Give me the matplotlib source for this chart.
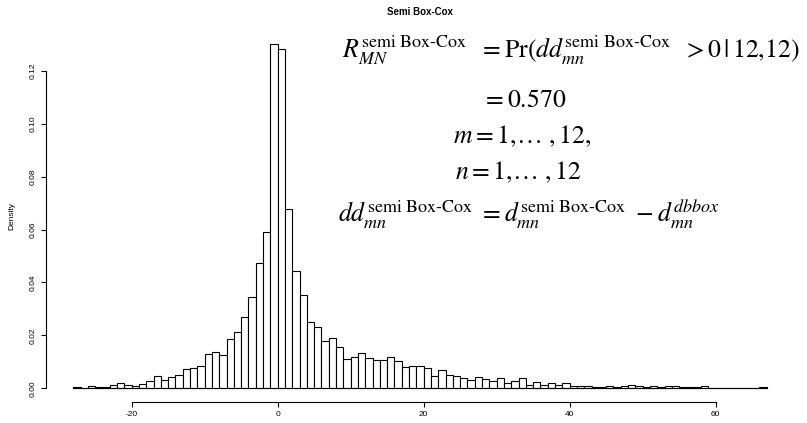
import numpy as np
import matplotlib.pyplot as plt

plt.rcParams['font.family'] = ['Liberation Sans', 'DejaVu Sans']
plt.rcParams['mathtext.fontset'] = 'stix'
plt.rcParams['axes.unicode_minus'] = False

# histogram bins of width 1, from -28 to 67
bin_edges = np.arange(-28, 68)
density = [
    0.0003, 0.0000, 0.0009, 0.0004, 0.0004, 0.0012, 0.0020, 0.0012,   # -28 .. -21
    0.0008, 0.0017, 0.0027, 0.0046, 0.0032, 0.0042, 0.0050, 0.0073,   # -20 .. -13
    0.0077, 0.0086, 0.0130, 0.0139, 0.0124, 0.0186, 0.0214, 0.0269,   # -12 .. -5
    0.0346, 0.0473, 0.0590, 0.1303, 0.1282, 0.0677, 0.0445, 0.0352,   # -4 .. 3
    0.0250, 0.0232, 0.0180, 0.0190, 0.0156, 0.0111, 0.0119, 0.0132,   # 4 .. 11
    0.0114, 0.0105, 0.0105, 0.0117, 0.0103, 0.0081, 0.0086, 0.0084,   # 12 .. 19
    0.0076, 0.0045, 0.0069, 0.0050, 0.0047, 0.0037, 0.0032, 0.0042,   # 20 .. 27
    0.0036, 0.0027, 0.0039, 0.0020, 0.0027, 0.0037, 0.0013, 0.0023,   # 28 .. 35
    0.0012, 0.0020, 0.0012, 0.0020, 0.0009, 0.0009, 0.0007, 0.0004,   # 36 .. 43
    0.0004, 0.0009, 0.0004, 0.0007, 0.0012, 0.0007, 0.0004, 0.0007,   # 44 .. 51
    0.0004, 0.0007, 0.0009, 0.0003, 0.0004, 0.0004, 0.0009, 0.0000,   # 52 .. 59
    0.0000, 0.0000, 0.0000, 0.0000, 0.0002, 0.0000, 0.0003,           # 60 .. 66
]
x_ticks = [-20, 0, 20, 40, 60]
y_ticks = [0.00, 0.02, 0.04, 0.06, 0.08, 0.10, 0.12]

W, H = 807, 423
fig = plt.figure(figsize=(W / 100, H / 100), dpi=100)
ax = fig.add_axes([45.5 / W, 21 / H, 749 / W, 372 / H])

ax.bar(bin_edges[:-1], density, width=1, align='edge',
       facecolor='white', edgecolor='black', linewidth=0.8)
ax.plot([bin_edges[0], bin_edges[-1]], [0, 0], color='black', lw=0.8)

ax.set_xlim(-31.8, 70.8)
ax.set_ylim(-0.0052, 0.1355)
for s in ['top', 'right']:
    ax.spines[s].set_visible(False)
ax.spines['left'].set_bounds(0, 0.12)
ax.spines['bottom'].set_bounds(-20, 60)
for s in ['left', 'bottom']:
    ax.spines[s].set_linewidth(0.8)
ax.set_xticks(x_ticks)
ax.set_xticklabels([str(t) for t in x_ticks])
ax.set_yticks(y_ticks)
ax.set_yticklabels(['%.2f' % t for t in y_ticks], rotation=90, va='center')
ax.tick_params(length=3.5, width=0.8, labelsize=6, pad=3, colors='black')
ax.set_ylabel('Density', fontsize=6, labelpad=10)

fig.text(420 / W, 1 - 12 / H, 'Semi Box-Cox', fontsize=7, fontweight='bold',
         ha='center', va='center')

sup = r'^{\mathrm{semi\ Box}\text{-}\mathrm{Cox}}'
lines = [
    (342, 50, r'$R_{MN}' + sup + r'\ \ = \mathrm{Pr}(dd_{mn}' + sup + r'\ \ > 0\,|\,12{,}12)$'),
    (482, 100, r'$= 0.570$'),
    (453, 136, r'$m = 1,\!\ldots\ ,12,$'),
    (455, 172, r'$n = 1,\!\ldots\ ,12$'),
    (338, 214, r'$dd_{mn}' + sup + r'\ = d_{mn}' + sup + r'\ - d_{mn}^{dbbox}$'),
]
for x, y, s in lines:
    fig.text(x / W, 1 - y / H, s, fontsize=18.5, ha='left', va='center')

fig.savefig('out.png', dpi=100)
